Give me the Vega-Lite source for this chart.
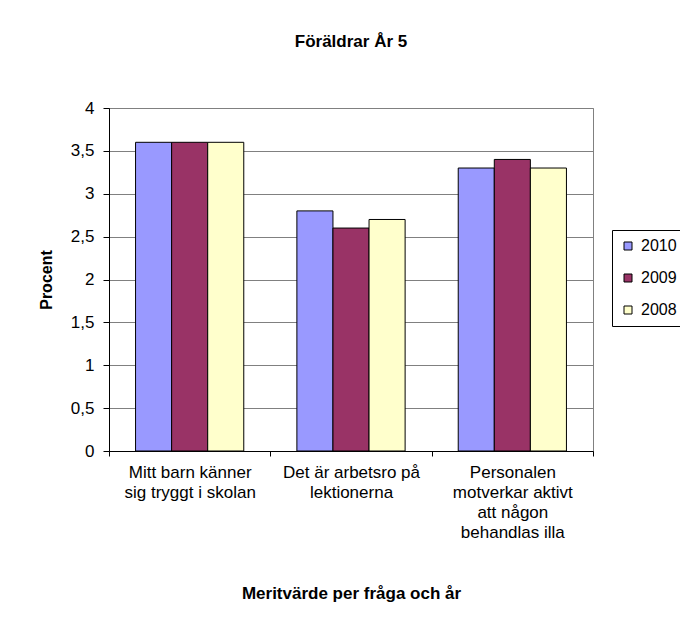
{
  "$schema": "https://vega.github.io/schema/vega-lite/v6.json",
  "width": 484,
  "height": 343,
  "autosize": {"type": "none"},
  "padding": {"left": 109, "top": 108, "right": 87, "bottom": 172},
  "background": "white",
  "title": {
    "text": "Föräldrar År 5",
    "font": "Liberation Sans",
    "fontSize": 17,
    "fontWeight": "bold",
    "color": "black",
    "anchor": "middle",
    "offset": 48
  },
  "data": {
    "values": [
      {"fraga": "Mitt barn känner|sig tryggt i skolan", "ar": "2010", "varde": 3.6},
      {"fraga": "Mitt barn känner|sig tryggt i skolan", "ar": "2009", "varde": 3.6},
      {"fraga": "Mitt barn känner|sig tryggt i skolan", "ar": "2008", "varde": 3.6},
      {"fraga": "Det är arbetsro på|lektionerna", "ar": "2010", "varde": 2.8},
      {"fraga": "Det är arbetsro på|lektionerna", "ar": "2009", "varde": 2.6},
      {"fraga": "Det är arbetsro på|lektionerna", "ar": "2008", "varde": 2.7},
      {"fraga": "Personalen|motverkar aktivt|att någon|behandlas illa", "ar": "2010", "varde": 3.3},
      {"fraga": "Personalen|motverkar aktivt|att någon|behandlas illa", "ar": "2009", "varde": 3.4},
      {"fraga": "Personalen|motverkar aktivt|att någon|behandlas illa", "ar": "2008", "varde": 3.3}
    ]
  },
  "mark": {"type": "bar", "stroke": "black", "strokeWidth": 1},
  "encoding": {
    "x": {
      "field": "fraga",
      "type": "nominal",
      "sort": null,
      "scale": {"paddingInner": 0, "paddingOuter": 0},
      "axis": {
        "title": "Meritvärde per fråga och år",
        "titleFont": "Liberation Sans",
        "titleFontSize": 17,
        "titleFontWeight": "bold",
        "titleColor": "black",
        "titleY": 142,
        "titleBaseline": "middle",
        "labelExpr": "split(datum.label, '|')",
        "labelAngle": 0,
        "labelFont": "Liberation Sans",
        "labelFontSize": 17,
        "labelColor": "black",
        "labelLineHeight": 20,
        "labelPadding": 8,
        "labelBaseline": "top",
        "tickBand": "extent",
        "tickSize": 5,
        "tickColor": "black",
        "domainColor": "black",
        "grid": false
      }
    },
    "xOffset": {
      "field": "ar",
      "type": "nominal",
      "sort": ["2010", "2009", "2008"],
      "scale": {"paddingInner": 0, "paddingOuter": 0.736}
    },
    "y": {
      "field": "varde",
      "type": "quantitative",
      "scale": {"domain": [0, 4], "nice": false},
      "axis": {
        "title": "Procent",
        "titleFont": "Liberation Sans",
        "titleFontSize": 16,
        "titleFontWeight": "bold",
        "titleColor": "black",
        "titleX": -63,
        "titleBaseline": "middle",
        "values": [0, 0.5, 1, 1.5, 2, 2.5, 3, 3.5, 4],
        "format": "~g",
        "labelExpr": "replace(datum.label, '.', ',')",
        "labelFont": "Liberation Sans",
        "labelFontSize": 17,
        "labelColor": "black",
        "labelPadding": 9,
        "tickSize": 6,
        "tickColor": "black",
        "domainColor": "black",
        "grid": true,
        "gridColor": "#808080",
        "gridWidth": 1
      }
    },
    "color": {
      "field": "ar",
      "type": "nominal",
      "sort": ["2010", "2009", "2008"],
      "scale": {"domain": ["2010", "2009", "2008"], "range": ["#9999FF", "#993366", "#FFFFCC"]},
      "legend": {
        "title": null,
        "orient": "none",
        "legendX": 503,
        "legendY": 122,
        "strokeColor": "black",
        "padding": 8,
        "symbolType": "square",
        "symbolSize": 64,
        "symbolStrokeColor": "black",
        "symbolStrokeWidth": 1,
        "symbolOpacity": 1,
        "labelFont": "Liberation Sans",
        "labelFontSize": 16,
        "labelColor": "black",
        "labelOffset": 5,
        "rowPadding": 16
      }
    }
  },
  "config": {
    "view": {"stroke": "#808080", "strokeWidth": 1},
    "axis": {"domainWidth": 1, "tickWidth": 1}
  }
}
